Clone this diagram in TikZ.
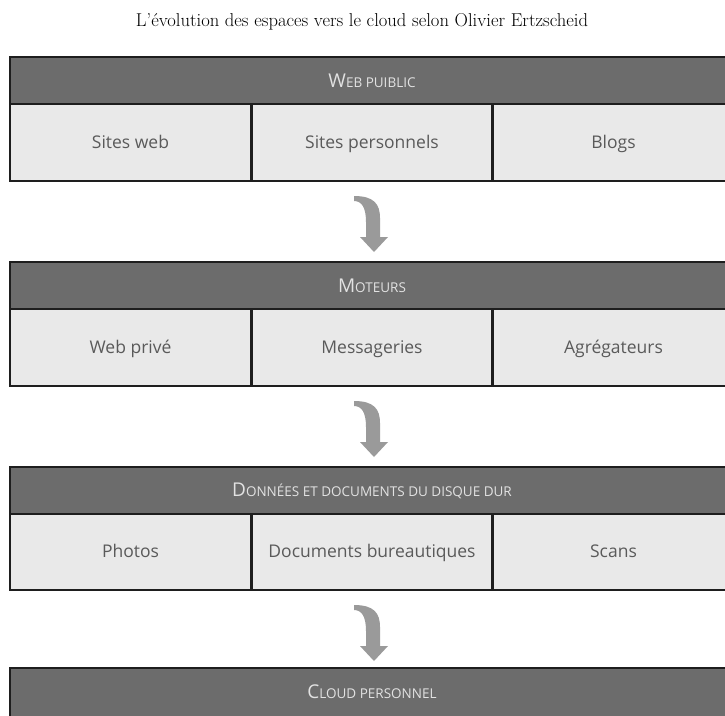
\documentclass[tikz,border=0pt]{standalone}
\usepackage{fontspec}
\newfontfamily\cellfont{Open Sans}
\definecolor{hdrfill}{HTML}{6C6C6C}
\definecolor{cellfill}{HTML}{E9E9E9}
\definecolor{bord}{HTML}{1E1E1E}
\definecolor{arrfill}{HTML}{9A9A9A}
\definecolor{hdrtxt}{HTML}{E2E2E2}
\definecolor{celltxt}{HTML}{5A5A5A}
\newcommand\mysmcaps[2]{{\fontsize{19}{22}\selectfont #1}{\fontsize{13.5}{16}\selectfont #2}}
\tikzset{
  hdrbox/.style={draw=bord, line width=2.4pt, fill=hdrfill, minimum width=724pt, minimum height=47pt,
    inner sep=0pt, outer sep=0pt, anchor=north west, text=hdrtxt, font=\cellfont},
  cellbox/.style={draw=bord, line width=2.4pt, fill=cellfill, minimum width=241pt, minimum height=77pt,
    inner sep=0pt, outer sep=0pt, anchor=north west, text=celltxt, text height=13pt, text depth=2pt,
    font=\cellfont\fontsize{17.5}{20}\selectfont},
  bentarrow/.style={fill=arrfill, draw=none}
}
\newcommand\bentarrowat[1]{%
  \fill[bentarrow, shift={(#1)}] (-20,0) .. controls (0,0) and (6,8) .. (6,22) -- (6,41) -- (14,41) -- (0,56)
    -- (-14,41) -- (-8,41) -- (-8,26) .. controls (-8,12) and (-12,5) .. (-20,5) -- cycle;}
\begin{document}
\begin{tikzpicture}[x=1pt,y=-1pt]
\useasboundingbox (0,0) rectangle (725,715);
\clip (0,0) rectangle (725,715);
\node[font=\fontsize{18.6}{22}\selectfont] (title) at (362,22) {L’évolution des espaces vers le cloud selon Olivier Ertzscheid};

% Block 1
\node[cellbox] (a1) at (10,104) {Sites web};
\node[cellbox] (a2) at (251.5,104) {Sites personnels};
\node[cellbox] (a3) at (493,104) {Blogs};
\node[hdrbox] (ah) at (10,57) {\mysmcaps{W}{EB PUIBLIC}};

% Block 2
\node[cellbox] (b1) at (10,309) {Web privé};
\node[cellbox] (b2) at (251.5,309) {Messageries};
\node[cellbox] (b3) at (493,309) {Agrégateurs};
\node[hdrbox] (bh) at (10,262) {\mysmcaps{M}{OTEURS}};

% Block 3
\node[cellbox] (c1) at (10,513) {Photos};
\node[cellbox] (c2) at (251.5,513) {Documents bureautiques};
\node[cellbox] (c3) at (493,513) {Scans};
\node[hdrbox] (ch) at (10,467) {\mysmcaps{D}{ONNÉES ET DOCUMENTS DU DISQUE DUR}};

% Block 4 (cut by the lower edge of the picture)
\node[hdrbox, minimum height=60pt, text height=13pt, text depth=13pt, anchor=north west] (dh) at (10,668) {\mysmcaps{C}{LOUD PERSONNEL}};

% Arrows
\coordinate (arr1) at (374,196);
\coordinate (arr2) at (374,401);
\coordinate (arr3) at (374,605);
\bentarrowat{arr1}
\bentarrowat{arr2}
\bentarrowat{arr3}
\end{tikzpicture}
\end{document}
